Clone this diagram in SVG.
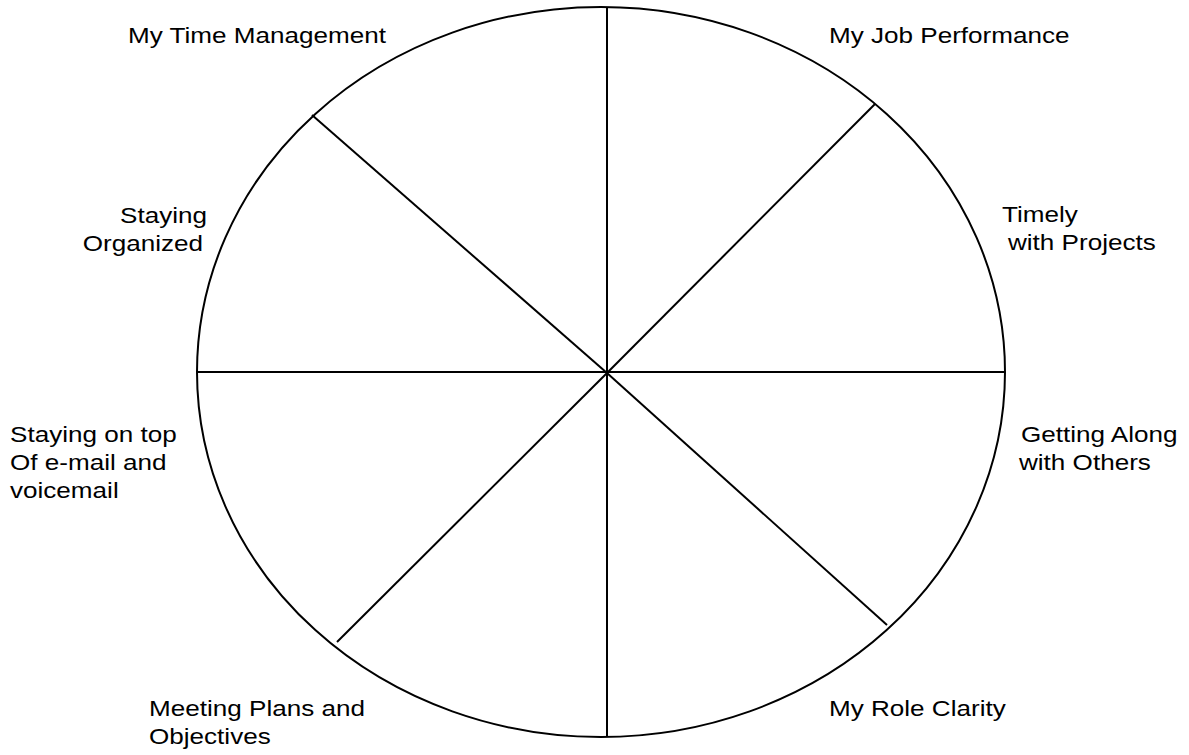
<svg xmlns="http://www.w3.org/2000/svg" width="1189" height="755" viewBox="0 0 1189 755">
<style>
.ln{stroke:#000;stroke-width:2;fill:none}
.t{font-family:"Liberation Sans",Arial,sans-serif;font-size:22.4px;fill:#000}
.e{text-anchor:end}
</style>
<rect width="1189" height="755" fill="#fff"/>
<g id="wheel">
<ellipse class="ln" cx="601" cy="372" rx="404" ry="365"/>
</g>
<g id="connectors">
<line class="ln" x1="607" y1="7" x2="607" y2="737"/>
<line class="ln" x1="197" y1="372" x2="1005" y2="372"/>
<line class="ln" x1="312" y1="115" x2="607" y2="373"/>
<line class="ln" x1="875" y1="104" x2="607" y2="373"/>
<line class="ln" x1="337" y1="642" x2="607" y2="373"/>
<line class="ln" x1="887" y1="625" x2="607" y2="373"/>
</g>
<g id="time-management"><text class="t" transform="translate(128,43) scale(1.165,1)">My Time Management</text></g>
<g id="job-performance"><text class="t" transform="translate(829,43) scale(1.165,1)">My Job Performance</text></g>
<g id="staying-organized">
<text class="t e" transform="translate(207,223) scale(1.165,1)">Staying</text>
<text class="t e" transform="translate(203,251) scale(1.165,1)">Organized</text>
</g>
<g id="timely">
<text class="t" transform="translate(1002,222) scale(1.165,1)">Timely</text>
<text class="t" transform="translate(1008,250) scale(1.165,1)">with Projects</text>
</g>
<g id="getting-along">
<text class="t" transform="translate(1021,442) scale(1.165,1)">Getting Along</text>
<text class="t" transform="translate(1019,470) scale(1.165,1)">with Others</text>
</g>
<g id="email">
<text class="t" transform="translate(10,442) scale(1.165,1)">Staying on top</text>
<text class="t" transform="translate(10,470) scale(1.165,1)">Of e-mail and</text>
<text class="t" transform="translate(10,498) scale(1.165,1)">voicemail</text>
</g>
<g id="meeting-plans">
<text class="t" transform="translate(149,716) scale(1.165,1)">Meeting Plans and</text>
<text class="t" transform="translate(149,744) scale(1.165,1)">Objectives</text>
</g>
<g id="role-clarity"><text class="t" transform="translate(829,716) scale(1.165,1)">My Role Clarity</text></g>
</svg>
